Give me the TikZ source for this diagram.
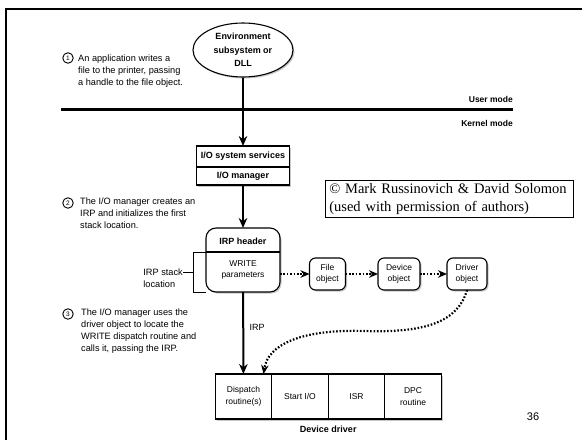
\documentclass[tikz,border=0pt]{standalone}
\usepackage{fontspec}
\setmainfont{Liberation Serif}
\setsansfont{Liberation Sans}
\usetikzlibrary{shapes,arrows.meta,fit,positioning,shadows}
\definecolor{shade}{gray}{0.3}

\begin{document}
\begin{tikzpicture}[% one unit is one pixel of the slide, y runs downwards
			x=1pt,y=-1pt,
			every node/.style={
				align=center,  		% use this so that the "\\" for line break works
				inner sep=0pt,
				font=\sffamily\fontsize{8.5}{11.5}\selectfont
			},
			boldtext/.style={font=\sffamily\bfseries\fontsize{9}{13.5}\selectfont},
			box/.style={rectangle,draw,line width=1.1pt,fill=white,outer sep=0pt,
				drop shadow={shadow xshift=1.5pt,shadow yshift=-1.5pt,fill=shade,opacity=0.3}},
			obj/.style={box,rounded corners=6pt,minimum height=32pt},
			note/.style={anchor=north west,align=left,font=\sffamily\fontsize{9.2}{12}\selectfont},
			num/.style={circle,draw,line width=0.9pt,minimum size=10.5pt,font=\sffamily\fontsize{6.5}{7}\selectfont},
			dotarr/.style={line width=2.2pt,dash pattern=on 1.6pt off 1.8pt,-{Stealth[length=9pt,width=7.5pt]}},
			every edge/.style={draw,line width=2pt,-{Stealth[length=10pt,width=8.5pt]}}
		]
		\useasboundingbox (0,0) rectangle (582,440);
		\fill[white] (0,0) rectangle (582,440);
		\draw[line width=2.6pt] (6,440) -- (6,9) -- (582,9);	% slide frame

		% user mode / kernel mode
		\coordinate (M1) at (61,109);
		\coordinate (M2) at (513,109);
		\draw[line width=3pt] (M1) -- (M2);
		\node[boldtext,anchor=east,font=\sffamily\bfseries\fontsize{8.5}{10}\selectfont] (U1) at (M2 |- 0,99) {User mode};
		\node[boldtext,anchor=east,font=\sffamily\bfseries\fontsize{8.5}{10}\selectfont] (U2) at (M2 |- 0,123) {Kernel mode};

		% the boxes
		\node[ellipse,draw,line width=1.1pt,fill=white,boldtext,minimum width=100pt,minimum height=54pt,
			drop shadow={shadow xshift=1.5pt,shadow yshift=-1.5pt,fill=shade,opacity=0.3}] (R1) at (243,50) {Environment\\subsystem or\\DLL};
		\node[box,boldtext,minimum width=93pt,minimum height=21pt] (R2) at (243,156.5) {I/O system services};
		\node[box,boldtext,minimum width=93pt,minimum height=18pt,below=0pt of R2] (R3) {I/O manager};
		\node[box,rounded corners=10pt,minimum width=74pt,minimum height=64pt] (R4) at (243,260) {};
		\node[boldtext] (R5) at (243,241) {IRP header};
		\node (R6) at (243,270) {WRITE\\parameters};
		\draw[line width=1.1pt] (R4.west |- 0,252) -- (R4.east |- 0,252);
		\node[obj,minimum width=36pt] (R8) at (327.5,274) {File\\object};
		\node[obj,minimum width=42pt] (R9) at (399,274) {Device\\object};
		\node[obj,minimum width=40pt] (R10) at (467,274) {Driver\\object};
		\node[box,minimum width=56.5pt,minimum height=45pt] (R12) at (243.5,396.5) {Dispatch\\routine(s)};
		\node[box,minimum width=56.5pt,minimum height=45pt,right=0pt of R12] (R13) {Start I/O};
		\node[box,minimum width=56.5pt,minimum height=45pt,right=0pt of R13] (R14) {ISR};
		\node[box,minimum width=56.5pt,minimum height=45pt,right=0pt of R14] (R15) {DPC\\routine};
		\node[boldtext,below=7pt of R13.south east] (R17) {Device driver};
		\node[font=\sffamily\fontsize{9}{11}\selectfont] (R16) at (257,327) {IRP};

		% irp stack location bracket
		\node[note,anchor=east] (R7) at (183,278) {IRP stack\\location};
		\draw[line width=0.8pt] (R4.west |- 0,252) -| (193,292) -- (R4.south west);
		\draw[line width=0.8pt] (R7.east |- 0,272) -- (193,272);

		% numbered steps
		\node[num] (N1) at (68,58) {1};
		\node[note] (T1) at (78,55) {An application writes a\\file to the printer, passing\\a handle to the file object.};
		\node[num] (N2) at (68,203) {2};
		\node[note] (T2) at (80,198) {The I/O manager creates an\\IRP and initializes the first\\stack location.};
		\node[num] (N3) at (68,314) {3};
		\node[note] (T3) at (81,309) {The I/O manager uses the\\driver object to locate the\\WRITE dispatch routine and\\calls it, passing the IRP.};

		\node[draw,line width=0.6pt,anchor=north west,align=left,text width=240pt,inner xsep=4pt,inner ysep=3pt,
			font=\rmfamily\fontsize{14.5}{18}\selectfont] (R11) at (325,180) {© Mark Russinovich \& David Solomon\\(used with permission of authors)};
		\node[font=\sffamily\fontsize{11}{13}\selectfont] (P1) at (533,417) {36};

		\path
		(R1)edge []	node [] {} (R2)
		(R3)edge []	node [] {} (R4)
		(R4)edge []	node [] {} (R12)
		(R4.east |- R8)edge [dotarr]	node [] {} (R8)
		(R8)edge [dotarr]	node [] {} (R9)
		(R9)edge [dotarr]	node [] {} (R10)
		;
		\draw[dotarr] (R10.south) .. controls (458,322) and (425,333) .. (365,331)
			.. controls (300,329) and (268,345) .. ([xshift=20pt]R12.north);
	\end{tikzpicture}
\end{document}
